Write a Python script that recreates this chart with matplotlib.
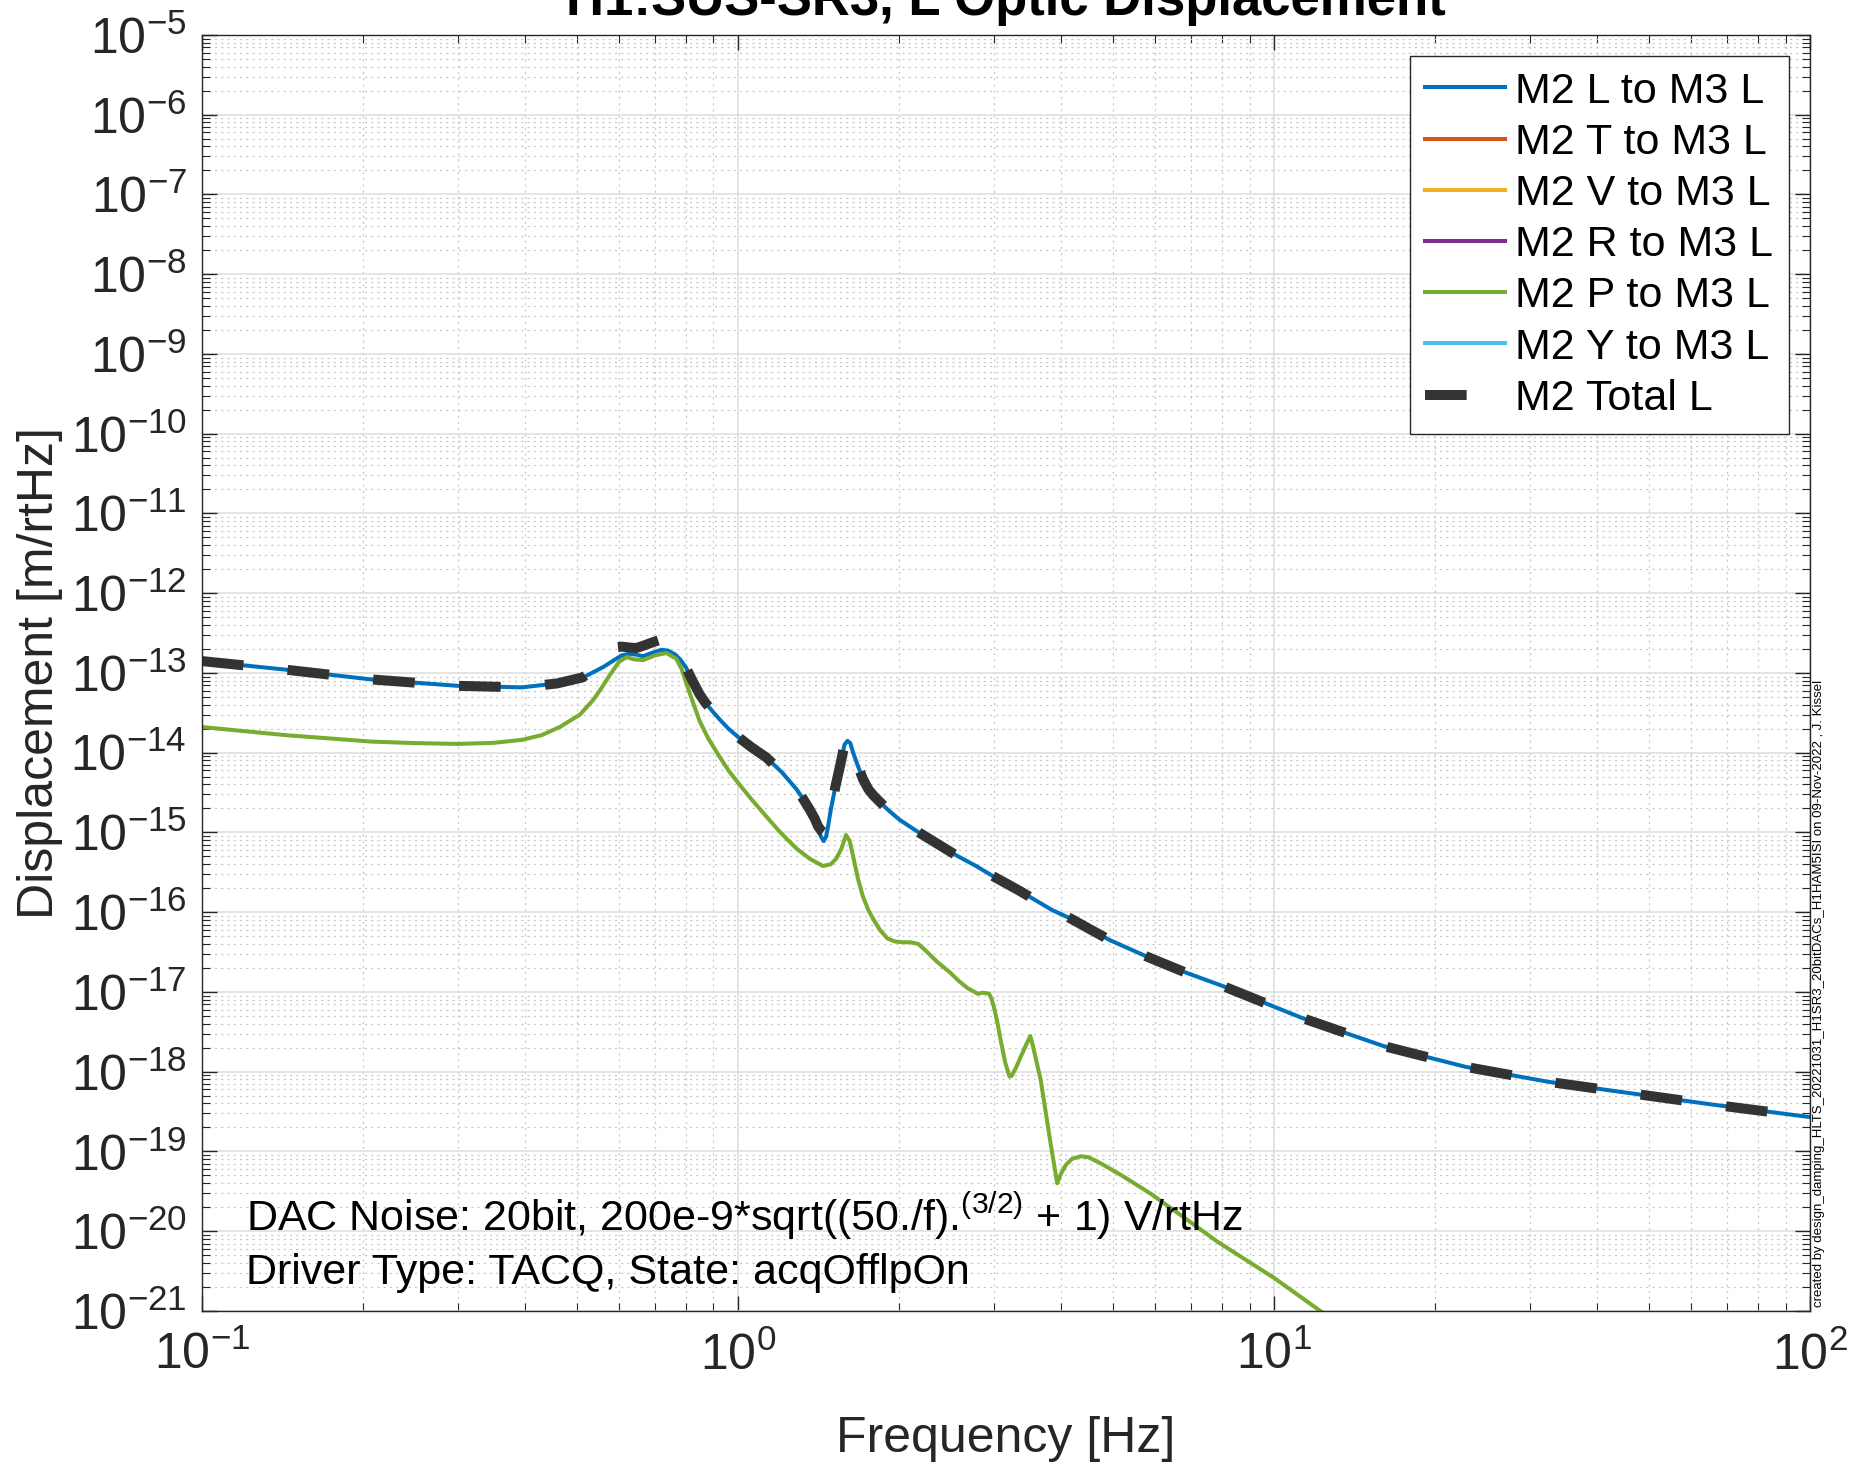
import matplotlib
matplotlib.use('Agg')
import matplotlib.pyplot as plt
import numpy as np
from matplotlib.ticker import LogLocator, LogFormatterSciNotation, NullFormatter

plt.rcParams['font.family'] = ['Liberation Sans', 'DejaVu Sans']
plt.rcParams['mathtext.fontset'] = 'custom'
plt.rcParams['mathtext.rm'] = 'Liberation Sans'
plt.rcParams['mathtext.it'] = 'Liberation Sans:italic'
plt.rcParams['mathtext.bf'] = 'Liberation Sans:bold'
plt.rcParams['axes.unicode_minus'] = False
plt.rcParams['lines.scale_dashes'] = False

# ---- data (m/rtHz vs Hz) ----
freq_L = [0.100, 0.1435, 0.207, 0.30, 0.395, 0.46, 0.513, 0.562, 0.59, 0.607,
          0.626, 0.645, 0.665, 0.69, 0.719, 0.74, 0.764, 0.78, 0.80, 0.82,
          0.848, 0.87, 0.90, 0.93, 0.96, 1.0, 1.06, 1.13, 1.21, 1.285,
          1.32, 1.36, 1.39, 1.41, 1.43, 1.445, 1.46, 1.47, 1.49, 1.52,
          1.55, 1.58, 1.60, 1.62, 1.64, 1.67, 1.71, 1.75, 1.79, 1.9,
          2.0, 2.15, 2.34, 2.55, 2.78, 3.0, 3.35, 3.85, 4.18, 4.5,
          4.93, 5.81, 6.8, 8.07, 11.3, 16.0, 22.8, 32.4, 46.0, 65.3,
          100.0]
disp_L = [1.41e-13, 1.10e-13, 8.3e-14, 6.9e-14, 6.6e-14, 7.4e-14, 8.7e-14, 1.20e-13, 1.48e-13, 1.66e-13,
          1.74e-13, 1.70e-13, 1.62e-13, 1.78e-13, 1.95e-13, 1.91e-13, 1.70e-13, 1.48e-13, 1.17e-13, 8.3e-14,
          5.4e-14, 4.2e-14, 3.2e-14, 2.5e-14, 2.0e-14, 1.58e-14, 1.17e-14, 8.7e-15, 5.6e-15, 3.5e-15,
          2.7e-15, 1.95e-15, 1.45e-15, 1.10e-15, 8.7e-16, 7.8e-16, 8.9e-16, 1.12e-15, 1.95e-15, 3.8e-15,
          6.8e-15, 1.26e-14, 1.41e-14, 1.32e-14, 1.0e-14, 7.1e-15, 4.7e-15, 3.5e-15, 2.9e-15, 1.95e-15,
          1.45e-15, 1.05e-15, 7.4e-16, 5.2e-16, 3.8e-16, 2.8e-16, 1.86e-16, 1.07e-16, 8.3e-17, 6.3e-17,
          4.5e-17, 2.75e-17, 1.78e-17, 1.17e-17, 4.7e-18, 2.1e-18, 1.15e-18, 7.5e-19, 5.4e-19, 3.9e-19,
          2.7e-19]

freq_P = [0.100, 0.1435, 0.207, 0.25, 0.30, 0.35, 0.395, 0.43, 0.465, 0.507,
          0.537, 0.555, 0.577, 0.60, 0.62, 0.64, 0.665, 0.70, 0.735, 0.767,
          0.785, 0.80, 0.82, 0.848, 0.88, 0.924, 0.96, 1.0, 1.06, 1.13,
          1.2, 1.285, 1.36, 1.44, 1.49, 1.525, 1.56, 1.59, 1.615, 1.64,
          1.675, 1.71, 1.75, 1.79, 1.84, 1.90, 1.96, 2.03, 2.10, 2.17,
          2.25, 2.35, 2.49, 2.58, 2.68, 2.80, 2.87, 2.94, 2.97, 3.0,
          3.05, 3.09, 3.15, 3.21, 3.24, 3.3, 3.37, 3.45, 3.51, 3.55,
          3.67, 3.83, 3.94, 4.0, 4.09, 4.2, 4.36, 4.5, 4.75, 5.2,
          5.89, 6.8, 7.84, 10.0, 12.2, 14.0]
disp_P = [2.1e-14, 1.66e-14, 1.38e-14, 1.32e-14, 1.29e-14, 1.33e-14, 1.45e-14, 1.66e-14, 2.1e-14, 3.0e-14,
          4.6e-14, 6.3e-14, 9.5e-14, 1.38e-13, 1.58e-13, 1.48e-13, 1.45e-13, 1.66e-13, 1.78e-13, 1.51e-13,
          1.12e-13, 7.6e-14, 4.7e-14, 2.5e-14, 1.51e-14, 8.9e-15, 6.0e-15, 4.2e-15, 2.6e-15, 1.58e-15,
          1.0e-15, 6.3e-16, 4.7e-16, 3.8e-16, 4.0e-16, 4.7e-16, 6.3e-16, 9.3e-16, 7.9e-16, 5.0e-16,
          2.6e-16, 1.58e-16, 1.07e-16, 8.1e-17, 6.0e-17, 4.7e-17, 4.3e-17, 4.2e-17, 4.2e-17, 4.0e-17,
          3.2e-17, 2.4e-17, 1.74e-17, 1.38e-17, 1.12e-17, 9.5e-18, 9.8e-18, 9.5e-18, 8.3e-18, 6.6e-18,
          4.0e-18, 2.5e-18, 1.32e-18, 8.7e-19, 8.9e-19, 1.12e-18, 1.55e-18, 2.2e-18, 2.8e-18, 2.1e-18,
          7.9e-19, 1.26e-19, 4.0e-20, 5.2e-20, 6.8e-20, 8.1e-20, 8.7e-20, 8.5e-20, 7.1e-20, 5.0e-20,
          2.95e-20, 1.48e-20, 7.4e-21, 2.6e-21, 1.0e-21, 5.5e-22]

freq_total = freq_L
disp_total = [1.41e-13, 1.10e-13, 8.3e-14, 6.9e-14, 6.6e-14, 7.4e-14, 8.8e-14, 1.35e-13, 2.1e-13, 2.14e-13,
              2.09e-13, 2.05e-13, 2.19e-13, 2.4e-13, 2.63e-13, 2.3e-13, 1.90e-13, 1.5e-13, 1.17e-13, 8.3e-14,
              5.4e-14, 4.2e-14, 3.2e-14, 2.5e-14, 2.0e-14, 1.58e-14, 1.17e-14, 8.7e-15, 5.6e-15, 3.5e-15,
              2.7e-15, 1.95e-15, 1.5e-15, 1.2e-15, 1.05e-15, 1.0e-15, 1.05e-15, 1.2e-15, 1.95e-15, 3.8e-15,
              6.8e-15, 1.26e-14, 1.41e-14, 1.32e-14, 1.0e-14, 7.1e-15, 4.7e-15, 3.5e-15, 2.9e-15, 1.95e-15,
              1.45e-15, 1.05e-15, 7.4e-16, 5.2e-16, 3.8e-16, 2.8e-16, 1.86e-16, 1.07e-16, 8.3e-17, 6.3e-17,
              4.5e-17, 2.75e-17, 1.78e-17, 1.17e-17, 4.7e-18, 2.1e-18, 1.15e-18, 7.5e-19, 5.4e-19, 3.9e-19,
              2.7e-19]

# T, V, R, Y contributions fall below the plotted range
freq_T, disp_T = [], []
freq_V, disp_V = [], []
freq_R, disp_R = [], []
freq_Y, disp_Y = [], []

labels = ['M2 L to M3 L', 'M2 T to M3 L', 'M2 V to M3 L', 'M2 R to M3 L',
          'M2 P to M3 L', 'M2 Y to M3 L', 'M2 Total L']
colors = ['#0072BD', '#D95319', '#EDB120', '#7E2F8E', '#77AC30', '#4DBEEE', '#333333']

fig = plt.figure(figsize=(18.51, 14.63), dpi=100)
ax = fig.add_axes([0.1091, 0.1039, 0.8688, 0.8722])

series = [(freq_L, disp_L), (freq_T, disp_T), (freq_V, disp_V), (freq_R, disp_R),
          (freq_P, disp_P), (freq_Y, disp_Y)]
for (f, d), lab, col in zip(series, labels[:6], colors[:6]):
    ax.loglog(f, d, '-', color=col, lw=2.9, label=lab, solid_joinstyle='round')
ax.loglog(freq_total, disp_total, '--', color=colors[6], lw=7.2, dashes=(30, 32),
          label=labels[6])

ax.set_xlim(0.1, 100)
ax.set_ylim(1e-21, 1e-5)

ax.xaxis.set_major_locator(LogLocator(base=10, numticks=20))
ax.xaxis.set_minor_locator(LogLocator(base=10, subs=np.arange(2, 10), numticks=50))
ax.yaxis.set_major_locator(LogLocator(base=10, numticks=40))
ax.yaxis.set_minor_locator(LogLocator(base=10, subs=np.arange(2, 10), numticks=200))
ax.xaxis.set_major_formatter(LogFormatterSciNotation())
ax.yaxis.set_major_formatter(LogFormatterSciNotation())
ax.xaxis.set_minor_formatter(NullFormatter())
ax.yaxis.set_minor_formatter(NullFormatter())

axcol = '#262626'
ax.tick_params(which='both', direction='in', top=True, right=True, colors=axcol)
ax.tick_params(which='major', length=11, width=1.0, labelsize=36, pad=11)
ax.tick_params(axis='x', which='major', pad=15)
ax.tick_params(which='minor', length=5.5, width=0.8)
for sp in ax.spines.values():
    sp.set_color(axcol)
    sp.set_linewidth(1.0)

ax.grid(which='major', color='#dcdcdc', lw=1.1, ls='-')
ax.grid(which='minor', color='#c8c8c8', lw=0.9, ls=(0, (1.5, 3)))
ax.set_axisbelow(True)

ax.set_xlabel('Frequency [Hz]', fontsize=36, color=axcol, labelpad=26)
ax.set_ylabel('Displacement [m/rtHz]', fontsize=36, color=axcol, labelpad=5)
ax.set_title('H1:SUS-SR3, L Optic Displacement', fontsize=38, fontweight='bold',
             pad=14.4)

leg = ax.legend(loc='upper right', fontsize=31, frameon=True, fancybox=False,
                framealpha=1.0, edgecolor=axcol, handlelength=1.86,
                handletextpad=0.25, labelspacing=0.26, borderpad=0.35,
                borderaxespad=0.5)
leg.get_frame().set_linewidth(1.0)

ax.text(0.0274, 0.0627, r'DAC Noise: 20bit, 200e-9*sqrt((50./f).$^{(3/2)}$ + 1) V/rtHz',
        transform=ax.transAxes, fontsize=31, va='baseline', ha='left')
ax.text(0.0274, 0.0212, 'Driver Type: TACQ, State: acqOfflpOn',
        transform=ax.transAxes, fontsize=31, va='baseline', ha='left')

fig.text(1813 / 1851, (1463 - 1307) / 1463,
         'created by design_damping_HLTS_20221031_H1SR3_20bitDACs_H1HAM5ISI on 09-Nov-2022 , J. Kissel',
         rotation=90, fontsize=9.5, ha='left', va='bottom')

fig.savefig('out.png', dpi=100)
